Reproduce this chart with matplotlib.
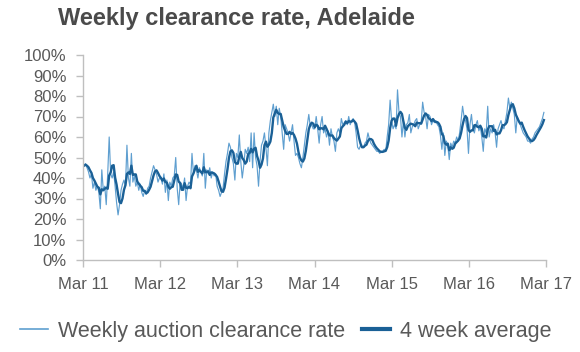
import numpy as np
import pandas as pd
import matplotlib
matplotlib.use("Agg")
import matplotlib.pyplot as plt

plt.rcParams['font.family'] = ['Liberation Sans', 'DejaVu Sans']

# weekly auction clearance rate (%), one list per year starting March
y2011 = [46, 47, 45, 43, 40, 42, 35, 38, 34, 36, 33, 25, 44, 34, 36, 27, 42, 60,
         42, 40, 43, 36, 28, 22, 27, 34, 37, 39, 36, 56, 40, 36, 52, 38, 41, 36,
         38, 34, 37, 33, 31, 34, 32, 35, 36, 40, 43, 46, 44, 42, 38, 40]
y2012 = [40, 37, 42, 33, 39, 29, 38, 36, 40, 41, 50, 35, 27, 38, 37, 35, 40, 29,
         36, 38, 37, 52, 42, 46, 44, 40, 45, 43, 41, 52, 35, 44, 42, 45, 40, 43,
         41, 42, 36, 34, 31, 33, 35, 42, 48, 52, 57, 55, 50, 47, 39, 52]
y2013 = [50, 61, 48, 40, 46, 54, 52, 55, 48, 62, 45, 62, 50, 46, 36, 48, 56, 58,
         62, 55, 46, 62, 68, 72, 76, 70, 75, 66, 74, 70, 62, 54, 66, 64, 62, 58,
         62, 66, 58, 51, 52, 50, 47, 45, 50, 56, 62, 66, 71, 65, 66, 64]
y2014 = [64, 70, 64, 57, 66, 70, 62, 64, 60, 63, 56, 64, 60, 58, 53, 62, 64, 62,
         69, 66, 67, 68, 66, 70, 66, 68, 69, 67, 62, 55, 54, 56, 55, 55, 57, 58,
         62, 59, 57, 56, 55, 54, 53, 53, 52, 53, 53, 54, 53, 60, 66, 78]
y2015 = [68, 64, 66, 64, 83, 72, 70, 60, 68, 60, 66, 67, 71, 62, 65, 66, 68, 69,
         64, 66, 67, 77, 72, 70, 64, 71, 70, 66, 68, 67, 68, 66, 65, 61, 54, 62,
         51, 58, 56, 49, 57, 55, 58, 57, 60, 58, 62, 68, 75, 70, 68, 64]
y2016 = [52, 66, 71, 64, 62, 66, 68, 63, 65, 60, 53, 64, 62, 75, 60, 64, 62, 66,
         62, 55, 64, 66, 68, 65, 64, 68, 72, 79, 74, 77, 74, 71, 62, 70, 68, 66,
         64, 62, 61, 60, 58, 58, 57, 59, 60, 62, 63, 64, 65, 67, 69, 72]

weekly = y2011 + y2012 + y2013 + y2014 + y2015 + y2016
dates = pd.date_range('2011-03-06', periods=len(weekly), freq='7D')
series = pd.Series(weekly, index=dates, dtype=float)
avg4 = series.rolling(4, min_periods=1).mean()

tick_dates = pd.to_datetime(['2011-03-01', '2012-03-01', '2013-03-01', '2014-03-01',
                             '2015-03-01', '2016-03-01', '2017-03-01'])
tick_labels = ['Mar 11', 'Mar 12', 'Mar 13', 'Mar 14', 'Mar 15', 'Mar 16', 'Mar 17']

light = '#5f9fd0'
dark = '#1a6096'
grey_txt = '#595959'
axis_col = '#bfbfbf'

fig = plt.figure(figsize=(5.8, 3.52), dpi=100)
ax = fig.add_axes([83/580, 1-260/352, (546-83)/580, (260-55)/352])

ax.plot(series.index, series.values, color=light, lw=0.85, label='Weekly auction clearance rate')
ax.plot(avg4.index, avg4.values, color=dark, lw=1.7, label='4 week average')

ax.set_xlim(tick_dates[0], tick_dates[-1])
ax.set_ylim(0, 100)
ax.set_yticks(np.arange(0, 101, 10))
ax.set_yticklabels(['%d%%' % v for v in range(0, 101, 10)])
ax.set_xticks(tick_dates)
ax.set_xticklabels(tick_labels)

for s in ['top', 'right']:
    ax.spines[s].set_visible(False)
for s in ['left', 'bottom']:
    ax.spines[s].set_color(axis_col)
    ax.spines[s].set_linewidth(1.0)
ax.tick_params(axis='both', colors=axis_col, length=5, width=1.0, labelsize=12,
               labelcolor=grey_txt, pad=7)

fig.text(236/580, 1-18/352, 'Weekly clearance rate, Adelaide', ha='center', va='center',
         fontsize=17, fontweight='bold', color='#4a4a4a')

leg_h1 = plt.Line2D([], [], color=light, lw=1.2)
leg_h2 = plt.Line2D([], [], color=dark, lw=3.0)
fig.legend([leg_h1, leg_h2], ['Weekly auction clearance rate', '4 week average'],
           loc='center', bbox_to_anchor=(286/580, 1-331/352), ncol=2, frameon=False,
           fontsize=15.5, labelcolor=grey_txt, handlelength=1.3, handletextpad=0.45,
           columnspacing=0.8, borderpad=0, borderaxespad=0)

fig.savefig('out.png', dpi=100)
